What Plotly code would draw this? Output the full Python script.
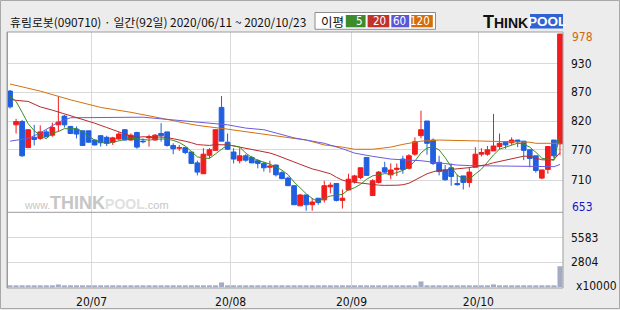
import plotly.graph_objects as go
import pandas as pd

# ---------------- data ----------------
stock_title = "휴림로봇(090710) · 일간(92일) 2020/06/11 ~ 2020/10/23"
start_date = "2020-06-11"
end_date = "2020-10-23"
holidays = ["2020-08-17", "2020-09-30", "2020-10-01", "2020-10-02", "2020-10-09"]

opens = [873, 811, 817, 769, 788, 786, 798, 792, 811, 827,
         808, 803, 800, 800, 783, 791, 788, 779, 785, 802,
         783, 797, 781, 787, 783, 795, 798, 773, 768, 769,
         761, 741, 721, 755, 764, 843, 779, 761, 745, 754,
         751, 745, 740, 733, 737, 723, 713, 699, 662, 682,
         664, 676, 673, 697, 703, 672, 691, 707, 714, 751,
         681, 705, 732, 719, 729, 748, 731, 757, 791, 818,
         783, 742, 728, 732, 703, 717, 705, 733, 757, 757,
         763, 771, 780, 778, 783, 781, 765, 754, 713, 729,
         783, 776]
highs = [875, 822, 820, 803, 811, 810, 802, 815, 863, 829,
         809, 808, 800, 800, 784, 792, 791, 789, 798, 803,
         795, 798, 786, 793, 794, 814, 798, 777, 774, 771,
         761, 745, 768, 768, 802, 864, 795, 768, 768, 757,
         754, 748, 743, 745, 738, 726, 716, 699, 684, 682,
         676, 676, 708, 705, 703, 692, 721, 719, 732, 751,
         711, 726, 743, 740, 740, 754, 757, 788, 837, 818,
         786, 754, 737, 740, 719, 717, 733, 770, 768, 772,
         831, 795, 780, 788, 783, 781, 765, 754, 728, 772,
         783, 978]
lows = [841, 795, 752, 769, 773, 783, 788, 789, 798, 806,
        794, 786, 773, 778, 773, 771, 772, 774, 783, 782,
        782, 767, 777, 771, 782, 780, 771, 757, 763, 757,
        740, 718, 721, 749, 764, 781, 766, 740, 740, 743,
        741, 731, 725, 723, 716, 711, 699, 664, 662, 653,
        653, 664, 668, 685, 670, 657, 691, 703, 711, 718,
        681, 703, 722, 711, 717, 721, 729, 754, 786, 756,
        737, 718, 708, 699, 699, 692, 696, 733, 753, 754,
        763, 766, 767, 774, 770, 746, 733, 723, 711, 721,
        749, 755]
closes = [844, 817, 754, 802, 784, 798, 789, 806, 816, 811,
          795, 794, 773, 779, 774, 778, 777, 787, 794, 783,
          792, 770, 780, 789, 792, 791, 773, 767, 769, 760,
          740, 724, 757, 765, 802, 781, 766, 748, 754, 746,
          741, 740, 732, 735, 719, 712, 699, 664, 682, 664,
          669, 668, 699, 700, 672, 676, 711, 717, 732, 718,
          708, 724, 724, 728, 731, 729, 754, 780, 802, 777,
          740, 725, 710, 716, 701, 705, 724, 757, 760, 765,
          772, 777, 774, 783, 780, 764, 749, 727, 728, 771,
          754, 978]
# volume in units of 10,000 shares
volumes = [190, 180, 190, 100, 95, 100, 105, 100, 300, 100,
           95, 100, 100, 95, 100, 100, 95, 100, 100, 100,
           95, 100, 100, 95, 100, 100, 105, 100, 95, 100,
           105, 190, 190, 110, 190, 530, 105, 100, 100, 95,
           100, 100, 95, 100, 100, 95, 100, 105, 100, 100,
           95, 100, 100, 95, 100, 100, 95, 100, 100, 95,
           100, 100, 95, 100, 100, 100, 190, 190, 640, 190,
           190, 100, 100, 95, 100, 100, 105, 190, 100, 100,
           300, 100, 100, 95, 100, 100, 100, 95, 100, 190,
           105, 2360]

# moving-average values before enough in-window closes exist
ma5_head_idx = [0, 1, 2, 3]
ma5_head_val = [864, 854, 834, 813]
ma20_head_idx = [0, 1, 3, 5, 7, 10, 12, 14, 16, 18]
ma20_head_val = [858, 856, 854, 844, 838, 828, 822, 814, 806, 798]
ma60_idx = [0, 3, 5, 6, 8, 10, 15, 22, 24, 27, 31, 36, 39, 42, 44, 47, 49,
            52, 55, 57, 60, 63, 66, 68, 71, 74, 76, 83, 86, 90, 91]
ma60_val = [781, 786, 796, 803, 816, 824, 824, 825, 823, 820, 816, 811, 805,
            802, 796, 787, 783, 777, 767, 759, 753, 748, 746, 745, 741, 737,
            736, 735, 734, 734, 738]
ma120_idx = [0, 5, 10, 13, 15, 20, 23, 26, 29, 31, 36, 39, 42, 44, 47, 49,
             52, 55, 57, 60, 63, 65, 68, 71, 79, 86, 87, 91]
ma120_val = [886, 873, 857, 848, 843, 834, 828, 821, 814, 810, 803, 798, 794,
             790, 786, 783, 774, 770, 766, 766, 770, 775, 781, 783, 781, 779,
             777, 777]

ma_periods = ["5", "20", "60", "120"]
ma_colors = ["#3c8c22", "#b82a2a", "#6a5ce0", "#d4700c"]
legend_box_colors = ["#3d8b2b", "#c3312b", "#5b55d9", "#d46d0a"]
ma_label = "이평"

price_grid_vals = [709, 765, 818, 871, 924]
price_grid_text = ["710", "770", "820", "870", "930"]
price_range = [650.1, 981.7]
vol_grid_vals = [2804, 5583]
vol_grid_text = ["2804", "5583"]
vol_range = [-102, 8452]
vol_unit = "x10000"

UP = "#f21c1c"
DOWN = "#1f5fe0"
VOLC = "#a3acc4"
GRID = "#d9d9d9"
FRAME = "#9c9c9c"

# ---------------- derived ----------------
n = len(closes)
all_days = pd.bdate_range(start_date, end_date)
dates = [d for d in all_days if d.strftime("%Y-%m-%d") not in holidays]
idx = list(range(n))

month_pos, month_text = [], []
for i in range(1, n):
    if dates[i].month != dates[i - 1].month:
        month_pos.append(i - 0.5)
        month_text.append(dates[i].strftime("%y/%m"))

cs = pd.Series(closes, dtype=float)
ma5_x = ma5_head_idx + list(range(4, n))
ma5_y = ma5_head_val + cs.rolling(5).mean().iloc[4:].tolist()
ma20_x = ma20_head_idx + list(range(19, n))
ma20_y = ma20_head_val + cs.rolling(20).mean().iloc[19:].tolist()

# ---------------- geometry helpers ----------------
FW, FH = 620, 310
L, R, T, B = 7, 57, 32, 22
PW, PH = FW - L - R, FH - T - B


def px(x):
    return (x - L) / PW


def py(y):
    return 1 - (y - T) / PH


SEP = 212.3
vol_top = py(SEP)

NARROW = "Liberation Sans Narrow, DejaVu Sans Condensed, Arial Narrow, sans-serif"

fig = go.Figure()

fig.add_trace(go.Bar(x=idx, y=volumes, marker=dict(color=VOLC, line=dict(width=0)),
                     xaxis="x", yaxis="y", hoverinfo="skip"))

fig.add_trace(go.Candlestick(
    x=idx, open=opens, high=highs, low=lows, close=closes,
    increasing=dict(line=dict(color=UP, width=1), fillcolor=UP),
    decreasing=dict(line=dict(color=DOWN, width=1), fillcolor=DOWN),
    whiskerwidth=0, xaxis="x2", yaxis="y2", hoverinfo="skip"))

for xs, ys, col in [(ma120_idx, ma120_val, ma_colors[3]),
                    (ma60_idx, ma60_val, ma_colors[2]),
                    (ma20_x, ma20_y, ma_colors[1]),
                    (ma5_x, ma5_y, ma_colors[0])]:
    fig.add_trace(go.Scatter(x=xs, y=ys, mode="lines", line=dict(color=col, width=1),
                             xaxis="x2", yaxis="y2", hoverinfo="skip"))

tick_font = dict(family=NARROW, size=12, color="#111111")

fig.update_layout(
    width=FW, height=FH, margin=dict(l=L, r=R, t=T, b=B, autoexpand=False),
    paper_bgcolor="#ececec", plot_bgcolor="white",
    showlegend=False, hovermode=False,
    boxgap=0.22, boxgroupgap=0, bargap=0.17,
    xaxis=dict(range=[-0.5, n - 0.5], anchor="y", tickvals=month_pos, ticktext=month_text,
               showgrid=True, gridcolor=GRID, gridwidth=1, zeroline=False, ticks="",
               tickfont=tick_font, ticklabelstandoff=5, automargin=False,
               rangeslider=dict(visible=False)),
    xaxis2=dict(matches="x", anchor="y2", tickvals=month_pos, showticklabels=False,
                showgrid=True, gridcolor=GRID, gridwidth=1, zeroline=False, ticks="",
                automargin=False, rangeslider=dict(visible=False)),
    yaxis=dict(domain=[0, vol_top], range=vol_range, side="right", tickvals=vol_grid_vals,
               ticktext=vol_grid_text, showgrid=True, gridcolor=GRID, zeroline=False,
               ticks="", tickfont=tick_font, ticklabelstandoff=7, automargin=False),
    yaxis2=dict(domain=[vol_top, 1], range=price_range, side="right", tickvals=price_grid_vals,
                ticktext=price_grid_text, showgrid=True, gridcolor=GRID, zeroline=False,
                ticks="", tickfont=tick_font, ticklabelstandoff=7, automargin=False),
)

shapes = []
# outer frame of the picture
shapes.append(dict(type="rect", xref="paper", yref="paper", x0=px(0.5), x1=px(619.5),
                   y0=py(0.5), y1=py(308.5), line=dict(color="#a8a8a8", width=1)))
# plot frame and panel separator
shapes.append(dict(type="rect", xref="paper", yref="paper", x0=0, x1=1, y0=0, y1=1,
                   line=dict(color=FRAME, width=1)))
shapes.append(dict(type="line", xref="paper", yref="paper", x0=px(7.5), x1=px(7.5), y0=0, y1=1,
                   line=dict(color=FRAME, width=1)))
shapes.append(dict(type="line", xref="paper", yref="paper", x0=0, x1=1, y0=vol_top, y1=vol_top,
                   line=dict(color=FRAME, width=1)))
# MA legend box
shapes.append(dict(type="rect", xref="paper", yref="paper", x0=px(315), x1=px(435.5),
                   y0=py(29.3), y1=py(12.5), fillcolor="white", line=dict(color="#8c8c8c", width=1)))
box_x = [(345.8, 365.6), (367.6, 389.3), (391.3, 409.2), (411.2, 432.8)]
annotations = []
for (a, b), col, lab in zip(box_x, legend_box_colors, ma_periods):
    shapes.append(dict(type="rect", xref="paper", yref="paper", x0=px(a), x1=px(b),
                       y0=py(27.3), y1=py(15), fillcolor=col, line=dict(width=0)))
    annotations.append(dict(xref="paper", yref="paper", x=px(b - 1), y=py(21.3),
                            xanchor="right", yanchor="middle", text=lab, showarrow=False,
                            font=dict(family=NARROW, size=11.5, color="white")))
annotations.append(dict(xref="paper", yref="paper", x=px(319), y=py(21.3), xanchor="left",
                        yanchor="middle", text=ma_label, showarrow=False,
                        font=dict(family="Noto Sans CJK KR", size=12.5, color="#111111")))
# title
annotations.append(dict(xref="paper", yref="paper", x=px(7.5), y=py(21.5), xanchor="left",
                        yanchor="middle", text=stock_title, showarrow=False,
                        font=dict(family="Noto Sans CJK KR", size=11.9, color="#111111")))
# THINKPOOL logo
shapes.append(dict(type="rect", xref="paper", yref="paper", x0=px(530), x1=px(563),
                   y0=py(28.5), y1=py(14), fillcolor="#2f63d3", line=dict(width=0)))
annotations.append(dict(xref="paper", yref="paper", x=px(530), y=py(21.5), xanchor="right",
                        yanchor="middle", showarrow=False,
                        text="<b><span style='font-size:18px'>T</span>HINK</b>",
                        font=dict(family="Liberation Sans", size=14, color="#111111")))
annotations.append(dict(xref="paper", yref="paper", x=px(546.5), y=py(21.5), xanchor="center",
                        yanchor="middle", showarrow=False, text="<b>POOL</b>",
                        font=dict(family="Liberation Sans", size=13.5, color="white")))
# watermark
annotations.append(dict(xref="paper", yref="paper", x=px(22), y=py(203), xanchor="left",
                        yanchor="middle", showarrow=False,
                        text="<span style='font-size:10.5px'>www.</span><b>THINK</b>"
                             "<b><span style='color:#e0e0e0;font-size:14px'>POOL</span></b>"
                             "<span style='font-size:11px'>.com</span>",
                        font=dict(family="Liberation Sans", size=18, color="#c6c6c6")))
# max / min price labels on the right axis
annotations.append(dict(xref="paper", yref="y2", x=px(570), y=max(highs), yshift=-3,
                        xanchor="left", yanchor="middle", showarrow=False, text=str(max(highs)),
                        font=dict(family=NARROW, size=12, color="#d0680c")))
annotations.append(dict(xref="paper", yref="y2", x=px(570), y=min(lows), yshift=4,
                        xanchor="left", yanchor="middle", showarrow=False, text=str(min(lows)),
                        font=dict(family=NARROW, size=12, color="#1414cc")))
annotations.append(dict(xref="paper", yref="paper", x=px(574), y=py(285.5), xanchor="left",
                        yanchor="middle", showarrow=False, text=vol_unit,
                        font=dict(family=NARROW, size=12, color="#111111")))

fig.update_layout(shapes=shapes, annotations=annotations)
fig.write_html("out.html")
